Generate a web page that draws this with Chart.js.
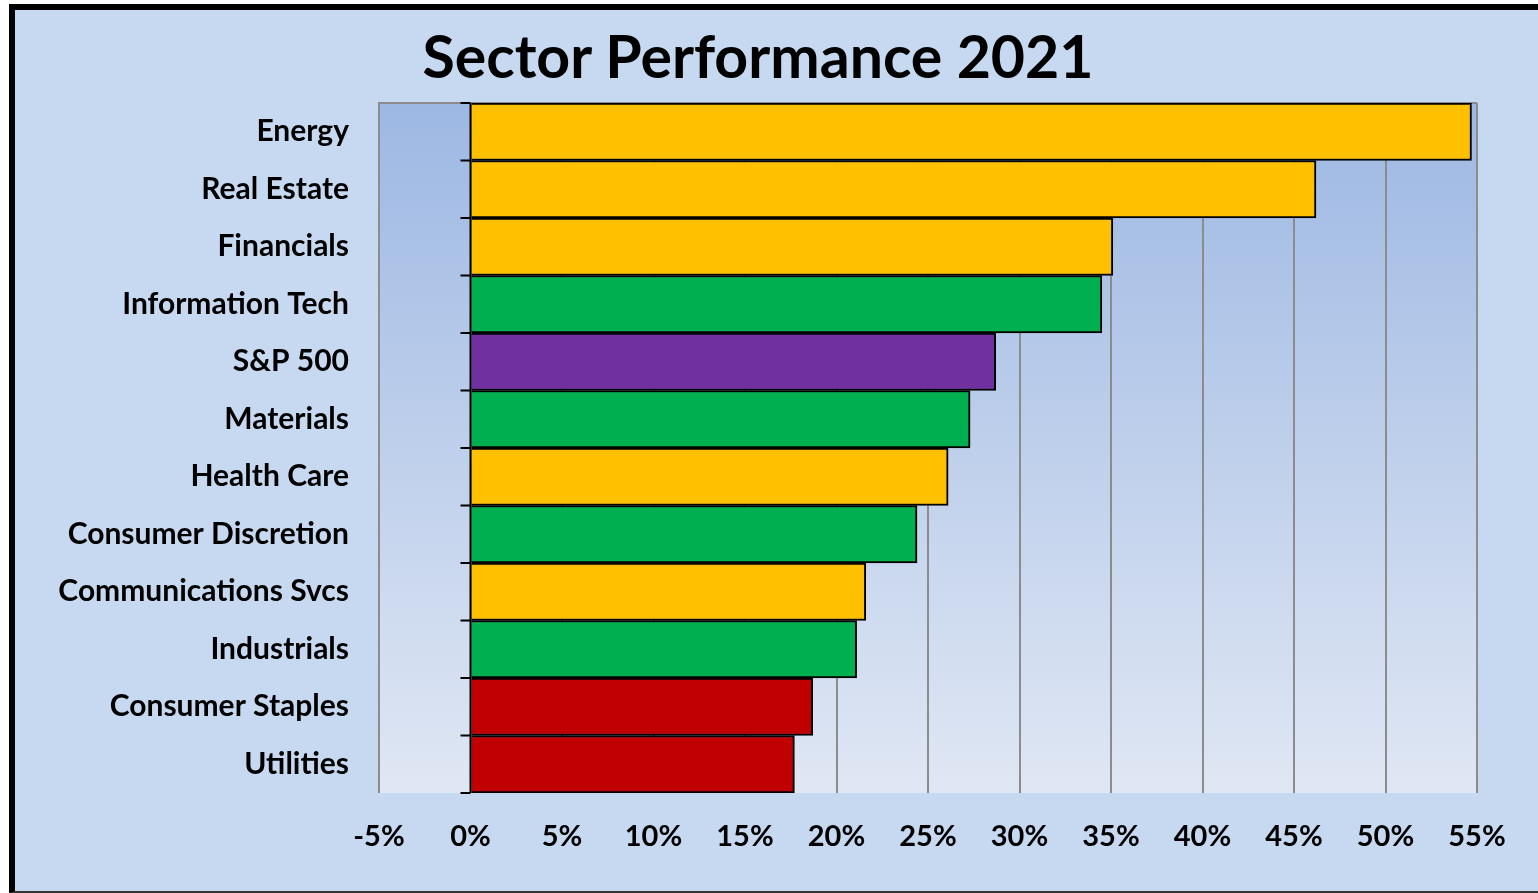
<!DOCTYPE html>
<html>
<head>
<meta charset="utf-8">
<script src="https://cdn.jsdelivr.net/npm/chart.js@4/dist/chart.umd.min.js"></script>
<style>
    html, body { margin: 0; padding: 0; background: #fff; overflow: hidden; }
    #frame {
        position: absolute; left: 9px; top: 4px;
        width: 1529px; height: 881px;
        background: #c6d9f0;
        border-left: 6px solid #000; border-top: 6px solid #000; border-bottom: 2px solid #333;
    }
    #title {
        position: absolute; left: 0; top: 10px; width: 1486px;
        text-align: center; font: bold 59px Lato, sans-serif; color: #000;
    }
    #wrap { position: absolute; left: 0; top: 0; width: 1523px; height: 881px; }
</style>
</head>
<body>
<div id="frame">
    <div id="wrap"><canvas id="sectorChart"></canvas></div>
    <div id="title">Sector Performance 2021</div>
</div>
<script>
const sectors = ['Energy', 'Real Estate', 'Financials', 'Information Tech', 'S&P 500', 'Materials',
    'Health Care', 'Consumer Discretion', 'Communications Svcs', 'Industrials', 'Consumer Staples', 'Utilities'];
const returns = [54.7, 46.2, 35.1, 34.5, 28.7, 27.3, 26.1, 24.4, 21.6, 21.1, 18.7, 17.7];
const barColors = ['#ffc000', '#ffc000', '#ffc000', '#00b050', '#7030a0', '#00b050',
    '#ffc000', '#00b050', '#ffc000', '#00b050', '#c00000', '#c00000'];
const xMin = -5;
const xMax = 55;
const xStep = 5;

// plot area background: blue fading to pale towards the bottom
const plotBackground = {
    id: 'plotBackground',
    beforeDraw(chart) {
        const { ctx, chartArea: a } = chart;
        const g = ctx.createLinearGradient(0, a.top, 0, a.bottom);
        g.addColorStop(0, '#9db8e3');
        g.addColorStop(1, '#e0e7f4');
        ctx.save();
        ctx.fillStyle = g;
        ctx.fillRect(a.left, a.top, a.right - a.left, a.bottom - a.top);
        ctx.strokeStyle = '#8c8c8c';
        ctx.lineWidth = 2;
        ctx.beginPath();
        ctx.moveTo(a.left, a.bottom);
        ctx.lineTo(a.left, a.top);
        ctx.lineTo(a.right, a.top);
        ctx.stroke();
        ctx.restore();
    }
};

// the category axis sits on 0%, with small ticks between bars
const zeroAxis = {
    id: 'zeroAxis',
    afterDatasetsDraw(chart) {
        const { ctx, chartArea: a, scales } = chart;
        const x0 = scales.x.getPixelForValue(0);
        const y = scales.y;
        ctx.save();
        ctx.strokeStyle = '#000';
        ctx.lineWidth = 2;
        ctx.beginPath();
        ctx.moveTo(x0, a.top);
        ctx.lineTo(x0, a.bottom);
        for (let i = 0; i <= sectors.length; i++) {
            const yy = i === 0 ? a.top : (i === sectors.length ? a.bottom
                : (y.getPixelForValue(i - 1) + y.getPixelForValue(i)) / 2);
            ctx.moveTo(x0 - 10, yy);
            ctx.lineTo(x0, yy);
        }
        ctx.stroke();
        ctx.restore();
    }
};

new Chart(document.getElementById('sectorChart'), {
    type: 'bar',
    data: {
        labels: sectors,
        datasets: [{
            data: returns,
            backgroundColor: barColors,
            borderColor: '#000',
            borderWidth: 2,
            categoryPercentage: 1,
            barPercentage: 1
        }]
    },
    options: {
        indexAxis: 'y',
        responsive: true,
        maintainAspectRatio: false,
        animation: false,
        layout: { padding: { top: 93, right: 61, left: 0, bottom: 0 } },
        plugins: {
            legend: { display: false },
            tooltip: { enabled: false }
        },
        scales: {
            x: {
                min: xMin,
                max: xMax,
                afterFit(scale) { scale.height = 98; },
                ticks: {
                    stepSize: xStep,
                    callback: v => v + '%',
                    color: '#000',
                    font: { family: 'Lato', size: 29, weight: 'bold' },
                    padding: 26
                },
                grid: {
                    color: ctx => ctx.tick && ctx.tick.value === xMin ? 'transparent' : '#8c8c8c',
                    lineWidth: 2,
                    drawTicks: false
                },
                border: { display: false }
            },
            y: {
                afterFit(scale) { scale.width = 364; },
                ticks: {
                    color: '#000',
                    font: { family: 'Lato', size: 30, weight: 'bold' },
                    padding: 22
                },
                grid: { display: false },
                border: { display: false }
            }
        }
    },
    plugins: [plotBackground, zeroAxis]
});
</script>
</body>
</html>
